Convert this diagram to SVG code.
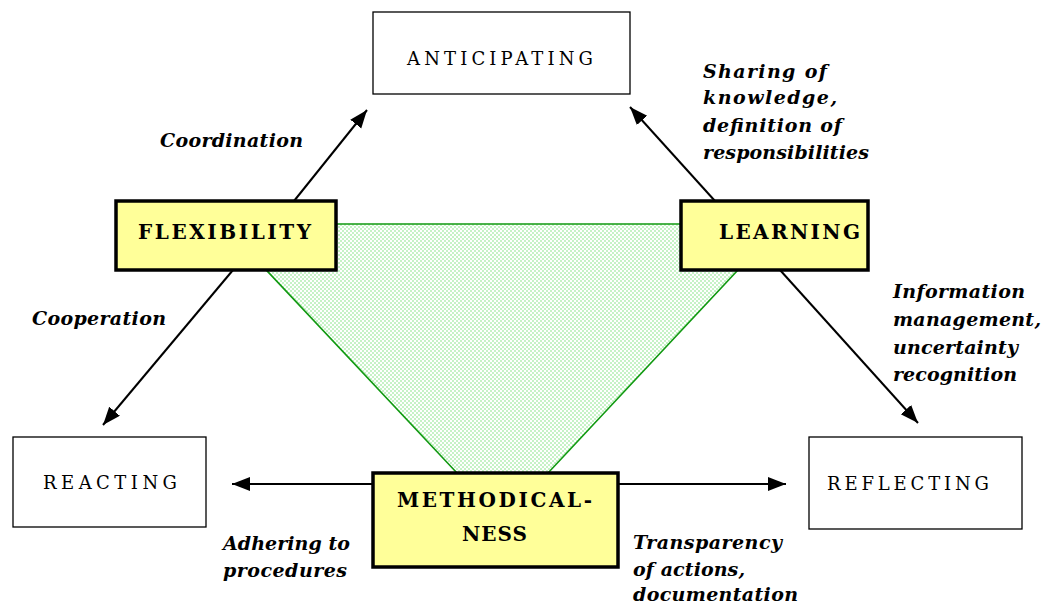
<svg xmlns="http://www.w3.org/2000/svg" width="1042" height="606" viewBox="0 0 1042 606">
<defs>
<pattern id="hatch" width="4" height="4" patternUnits="userSpaceOnUse">
<rect width="4" height="4" fill="#ffffff"/>
<rect x="0" y="0" width="2" height="2" fill="#c6f2c6"/>
<rect x="2" y="2" width="2" height="2" fill="#c6f2c6"/>
</pattern>
<marker id="arr" markerUnits="userSpaceOnUse" markerWidth="20" markerHeight="16" refX="18" refY="7" orient="auto">
<path d="M0,0 L18,7 L0,14 Z" fill="#000"/>
</marker>
<style>
.plain{fill:#fff;stroke:#000;stroke-width:1.3}
.key{fill:#ffff99;stroke:#000;stroke-width:3.5}
.c{stroke:#000;stroke-width:2;fill:none;marker-end:url(#arr)}
</style>
</defs>
<rect width="1042" height="606" fill="#fff"/>
<polygon id="triangle" points="223,224 781,224 548,473 457,473" fill="url(#hatch)" stroke="#119911" stroke-width="1.6"/>
<g id="connectors">
<line class="c" x1="294" y1="201" x2="367" y2="110"/>
<line class="c" x1="715" y1="201" x2="630" y2="107"/>
<line class="c" x1="233" y1="270" x2="103" y2="425"/>
<line class="c" x1="780" y1="270" x2="918" y2="423"/>
<line class="c" x1="373" y1="484" x2="232" y2="484"/>
<line class="c" x1="618" y1="484" x2="786" y2="484"/>
</g>
<g font-family="DejaVu Serif, serif" font-size="18" fill="#000">
<g id="anticipating">
<rect class="plain" x="373" y="12" width="257" height="82"/>
<text x="407" y="65" textLength="186" lengthAdjust="spacing">ANTICIPATING</text>
</g>
<g id="reacting">
<rect class="plain" x="13" y="437" width="193" height="90"/>
<text x="43" y="489" textLength="134" lengthAdjust="spacing">REACTING</text>
</g>
<g id="reflecting">
<rect class="plain" x="809" y="437" width="213" height="92"/>
<text x="827" y="490" textLength="162" lengthAdjust="spacing">REFLECTING</text>
</g>
<g id="flexibility" font-weight="bold" font-size="20">
<rect class="key" x="116" y="201" width="220" height="69"/>
<text x="138" y="239" textLength="173" lengthAdjust="spacing">FLEXIBILITY</text>
</g>
<g id="learning" font-weight="bold" font-size="20">
<rect class="key" x="681" y="201" width="187" height="69"/>
<text x="719" y="239" textLength="141" lengthAdjust="spacing">LEARNING</text>
</g>
<g id="methodicalness" font-weight="bold" font-size="20">
<rect class="key" x="373" y="473" width="245" height="94"/>
<text x="397" y="507" textLength="195" lengthAdjust="spacing">METHODICAL-</text>
<text x="462" y="541" textLength="65" lengthAdjust="spacing">NESS</text>
</g>
<g id="labels" font-weight="bold" font-style="italic" font-size="19">
<text x="160" y="147" textLength="143" lengthAdjust="spacing">Coordination</text>
<text x="703" y="78" textLength="124" lengthAdjust="spacing">Sharing of</text>
<text x="703" y="104" textLength="134" lengthAdjust="spacing">knowledge,</text>
<text x="703" y="132" textLength="139" lengthAdjust="spacing">definition of</text>
<text x="703" y="159" textLength="166" lengthAdjust="spacing">responsibilities</text>
<text x="32" y="325" textLength="134" lengthAdjust="spacing">Cooperation</text>
<text x="893" y="298" textLength="132" lengthAdjust="spacing">Information</text>
<text x="893" y="326" textLength="148" lengthAdjust="spacing">management,</text>
<text x="893" y="354" textLength="125" lengthAdjust="spacing">uncertainty</text>
<text x="893" y="381" textLength="124" lengthAdjust="spacing">recognition</text>
<text x="223" y="550" textLength="127" lengthAdjust="spacing">Adhering to</text>
<text x="223" y="577" textLength="124" lengthAdjust="spacing">procedures</text>
<text x="633" y="549" textLength="149" lengthAdjust="spacing">Transparency</text>
<text x="633" y="576" textLength="112" lengthAdjust="spacing">of actions,</text>
<text x="633" y="601" textLength="165" lengthAdjust="spacing">documentation</text>
</g>
</g>
</svg>
